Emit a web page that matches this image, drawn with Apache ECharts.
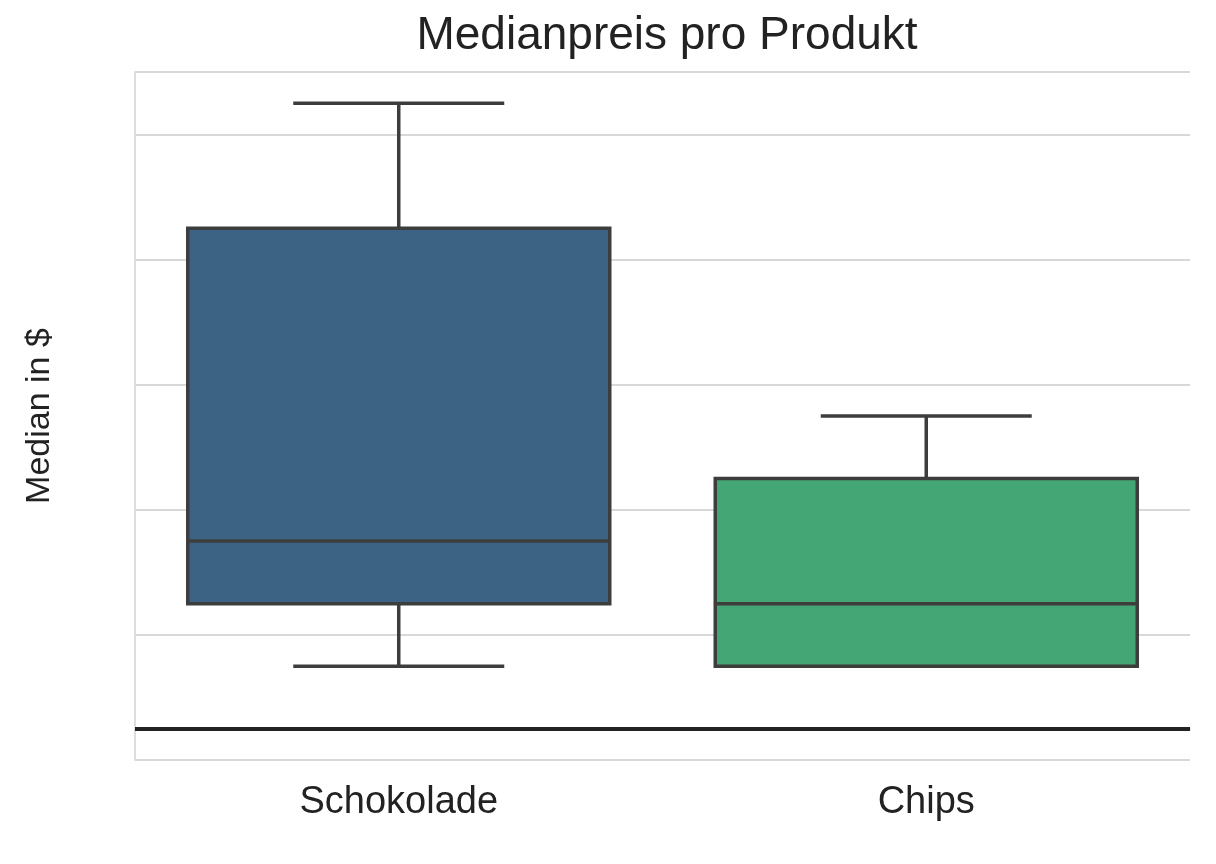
<!DOCTYPE html>
<html><head><meta charset="utf-8">
<script src="https://cdn.jsdelivr.net/npm/echarts@6/dist/echarts.min.js"></script>
<style>html,body{margin:0;background:#fff}#c{width:1216px;height:864px}</style>
</head><body><div id="c"></div>
<script>
const categories = ['Schokolade', 'Chips'];
const mins = [1, 1];
const q1s = [2, 1];
const medians = [3, 2];
const q3s = [8, 4];
const maxs = [10, 5];
const colors = ['#3c6383', '#44a575'];
const yTicks = [0, 2, 4, 6, 8, 10];

const data = categories.map((c, i) => [i, mins[i], q1s[i], medians[i], q3s[i], maxs[i]]);
const chart = echarts.init(document.getElementById('c'));
const edge = '#3d3d3d';
chart.setOption({
  animation: false,
  title: { text: 'Medianpreis pro Produkt', left: 662, top: 8, textAlign: 'center',
    textStyle: { fontFamily: 'Liberation Sans', fontWeight: 'normal', fontSize: 46, color: '#222' } },
  grid: { left: 135, right: 26, top: 72, bottom: 104 },
  xAxis: { type: 'category', data: categories,
    axisLine: { lineStyle: { color: '#ddd', width: 2 } }, axisTick: { show: false },
    axisLabel: { fontFamily: 'Liberation Sans', fontSize: 38, color: '#222', margin: 24 } },
  yAxis: { type: 'value', min: -0.5, max: 10.5, interval: 2,
    axisLine: { show: true, lineStyle: { color: '#ddd', width: 2 } }, axisTick: { show: false },
    splitLine: { lineStyle: { color: '#d8d8d8', width: 2 } },
    axisLabel: { fontFamily: 'DejaVu Sans', fontSize: 20, color: '#333', margin: 28,
      formatter: v => yTicks.includes(v) ? String(v) : '' },
    name: 'Median in $', nameLocation: 'middle', nameGap: 78,
    nameTextStyle: { fontFamily: 'Liberation Sans', fontSize: 34, color: '#222' } },
  series: [{
    type: 'custom', data,
    encode: { x: 0, y: [1, 2, 3, 4, 5] },
    renderItem: (params, api) => {
      const i = api.value(0);
      const bw = api.size([1, 0])[0];
      const cx = api.coord([i, 0])[0];
      const y = k => api.coord([i, api.value(k)])[1];
      const hb = bw * 0.4, hc = bw * 0.2;
      const ls = { stroke: edge, lineWidth: 3.5 };
      return { type: 'group', children: [
        { type: 'line', shape: { x1: cx, y1: y(1), x2: cx, y2: y(2) }, style: ls },
        { type: 'line', shape: { x1: cx, y1: y(4), x2: cx, y2: y(5) }, style: ls },
        { type: 'line', shape: { x1: cx - hc, y1: y(1), x2: cx + hc, y2: y(1) }, style: ls },
        { type: 'line', shape: { x1: cx - hc, y1: y(5), x2: cx + hc, y2: y(5) }, style: ls },
        { type: 'rect', shape: { x: cx - hb, y: y(4), width: 2 * hb, height: y(2) - y(4) },
          style: { fill: colors[i], stroke: edge, lineWidth: 3.5 } },
        { type: 'line', shape: { x1: cx - hb, y1: y(3), x2: cx + hb, y2: y(3) }, style: ls }
      ] };
    },
    markLine: { symbol: 'none', silent: true, label: { show: false },
      lineStyle: { color: '#222', width: 4, type: 'solid' }, data: [{ yAxis: 0 }] }
  }]
});
</script></body></html>
